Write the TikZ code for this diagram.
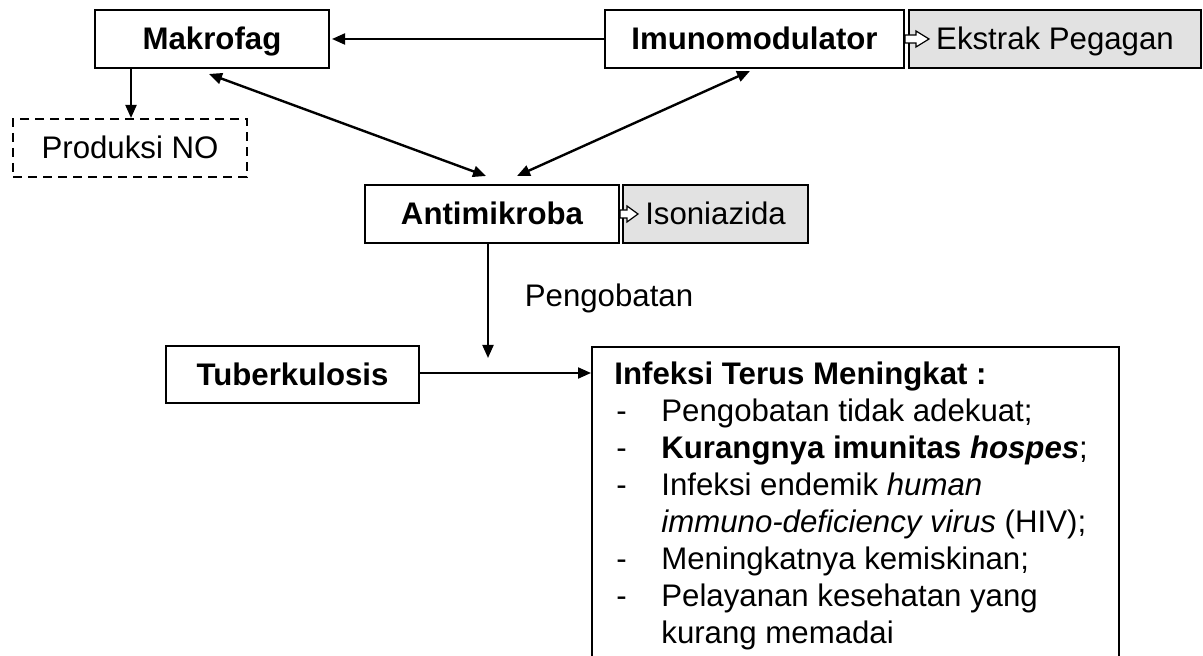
\documentclass[tikz,border=0pt]{standalone}
\usepackage{fontspec}
\setmainfont{Liberation Sans}
\usetikzlibrary{arrows.meta,calc}
\begin{document}
\begin{tikzpicture}[x=0.5pt,y=-0.5pt,
  txt/.style={font=\fontsize{15.6}{18}\selectfont},
  box/.style={draw, line width=1pt, inner sep=0pt, minimum height=29pt, text height=12pt, text depth=1pt, txt},
  boldbox/.style={box, font=\fontsize{15.6}{18}\selectfont\bfseries},
  graybox/.style={box, fill={rgb,255:red,226;green,226;blue,226}},
  dashbox/.style={box, dashed, dash pattern=on 4.5pt off 3pt},
  tip/.tip={Triangle[length=6.5pt,width=5.5pt]},
  arr/.style={-tip, line width=1pt},
  dbl/.style={tip-tip, line width=1.2pt},
  hollow/.style={draw, fill=white, line width=0.6pt}
]
\clip (0,0) rectangle (1203,656);
\fill[white] (0,0) rectangle (1203,656);

% nodes
\node[boldbox, minimum width=117pt] (mak) at (212,39) {Makrofag};
\node[boldbox, minimum width=149.5pt] (imu) at (754.5,39) {Imunomodulator};
\node[graybox, minimum width=146pt] (ek) at (1055,39) {Ekstrak Pegagan};
\node[dashbox, minimum width=117pt] (no) at (130,148) {Produksi NO};
\node[boldbox, minimum width=127pt] (anti) at (492,214) {Antimikroba};
\node[graybox, minimum width=92.5pt] (iso) at (715.5,214) {Isoniazida};
\node[txt, inner sep=0pt] (peng) at (609,298) {Pengobatan};
\node[boldbox, minimum width=126.5pt, minimum height=28.5pt] (tb) at (292.5,374.5) {Tuberkulosis};
\node[draw, line width=1pt, anchor=north west, minimum width=263.5pt, minimum height=177pt, inner sep=0pt] (inf) at (591,346) {};
\node[anchor=base west, inner sep=0pt, font=\fontsize{15.6}{18.45}\selectfont] (inftext) at (614,385) {%
\begin{tabular}[t]{@{}p{23.5pt}@{}l@{}}
\multicolumn{2}{@{}l@{}}{\bfseries Infeksi Terus Meningkat :}\\
\hspace{1pt}- & Pengobatan tidak adekuat;\\
\hspace{1pt}- & \textbf{Kurangnya imunitas \textit{hospes}};\\
\hspace{1pt}- & Infeksi endemik \textit{human}\\
 & \textit{immuno-deficiency virus} (HIV);\\
\hspace{1pt}- & Meningkatnya kemiskinan;\\
\hspace{1pt}- & Pelayanan kesehatan yang\\
 & kurang memadai
\end{tabular}};

% hollow arrows
\path[hollow] ([shift={(-3,-4)}]ek.west) -- ++(11,0) -- ++(0,-4) -- ++(13,8) -- ++(-13,8) -- ++(0,-4) -- ++(-11,0) -- cycle;
\path[hollow] ([shift={(-2,-4)}]iso.west) -- ++(7,0) -- ++(0,-4) -- ++(11,8) -- ++(-11,8) -- ++(0,-4) -- ++(-7,0) -- cycle;

% helper coordinates
\coordinate (cx131) at (131,0);
\coordinate (cx488) at (488,0);
\coordinate (cy373) at (0,373);
\coordinate (pend) at (488,358);

% connectors
\draw[arr, shorten >=1pt] (imu.west) -- (mak.east);
\draw[arr] (mak.south -| cx131) -- (no.north -| cx131);
\draw[dbl] ([shift={(115,5)}]mak.south west) -- ([shift={(122,-8)}]anti.north west);
\draw[dbl] ([shift={(146,2)}]imu.south west) -- ([shift={(153,-8)}]anti.north west);
\draw[arr] (anti.south -| cx488) -- (pend);
\draw[arr] (tb.east |- cy373) -- (inf.west |- cy373);
\end{tikzpicture}
\end{document}
